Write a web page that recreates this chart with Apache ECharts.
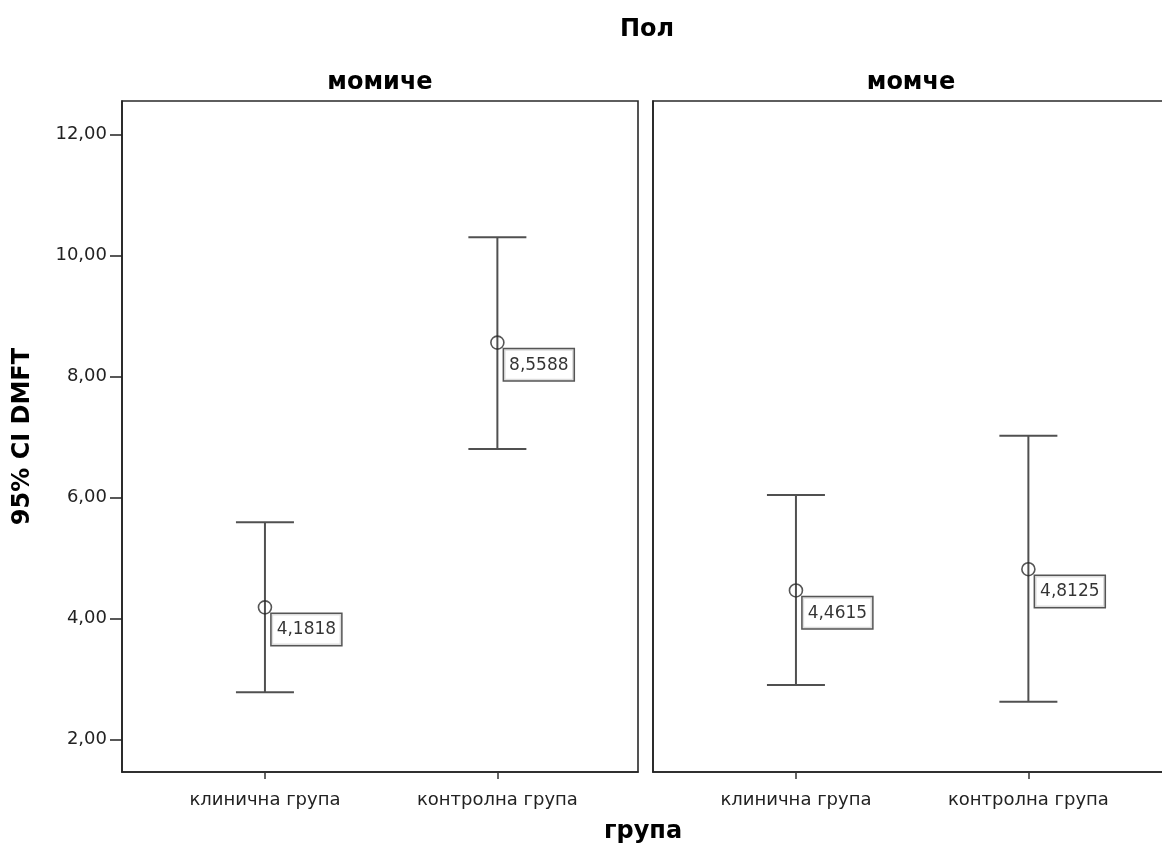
<!DOCTYPE html>
<html>
<head>
<meta charset="utf-8">
<script src="https://cdn.jsdelivr.net/npm/echarts@6/dist/echarts.min.js"></script>
<style>
html,body{margin:0;padding:0;background:#fff;}
#chart{width:1162px;height:854px;}
</style>
</head>
<body>
<div id="chart"></div>
<script>
// ---- data ----
var mainTitle = 'Пол';
var panels = ['момиче', 'момче'];
var categories = ['клинична група', 'контролна група'];
var yTitle = '95% CI DMFT';
var xTitle = 'група';
var yTicks = [2, 4, 6, 8, 10, 12];
// per panel: means, lower CI, upper CI (in category order)
var meansGirl = [4.1818, 8.5588];
var lowGirl = [2.78, 6.80];
var highGirl = [5.59, 10.30];
var meansBoy = [4.4615, 4.8125];
var lowBoy = [2.90, 2.62];
var highBoy = [6.04, 7.02];

var FONT = '"DejaVu Sans", Verdana, sans-serif';
var chart = echarts.init(document.getElementById('chart'));

function fmt(v, d) { return v.toFixed(d).replace('.', ','); }

var gridTop = 101, gridH = 671, gridW = 516;
var grids = [
  {left: 122, top: gridTop, width: gridW, height: gridH, show: true, borderColor: '#2a2a2a', borderWidth: 1.6, backgroundColor: 'transparent', containLabel: false, outerBoundsMode: 'none'},
  {left: 653, top: gridTop, width: gridW, height: gridH, show: true, borderColor: '#2a2a2a', borderWidth: 1.6, backgroundColor: 'transparent', containLabel: false, outerBoundsMode: 'none'}
];

function xAxis(i) {
  return {
    type: 'value', gridIndex: i, min: -0.615, max: 1.605,
    splitLine: {show: false},
    axisLine: {show: true, onZero: false, lineStyle: {color: '#222', width: 1.6}},
    axisTick: {show: true, customValues: [0, 1], length: 7, inside: false, lineStyle: {color: '#333', width: 1.5}},
    axisLabel: {show: true, customValues: [0, 1], margin: 19, color: '#222', fontSize: 18, fontFamily: FONT,
      formatter: function (v) { return categories[Math.round(v)]; }}
  };
}
function yAxis(i) {
  var ax = {
    type: 'value', gridIndex: i, min: 1.46, max: 12.553,
    splitLine: {show: false},
    axisLine: {show: true, onZero: false, lineStyle: {color: '#222', width: 1.6}},
    axisTick: {show: i === 0, customValues: yTicks, length: 12, lineStyle: {color: '#222', width: 1.5}},
    axisLabel: {show: i === 0, customValues: yTicks, margin: 15, color: '#222', fontSize: 18, fontFamily: FONT,
      formatter: function (v) { return fmt(v, 2); }}
  };
  if (i === 0) {
    ax.name = yTitle;
    ax.nameLocation = 'middle';
    ax.nameRotate = 90;
    ax.nameGap = 87;
    ax.nameTextStyle = {fontSize: 24, fontWeight: 'bold', color: '#000', fontFamily: FONT};
  }
  return ax;
}

function errData(low, high) {
  return low.map(function (l, k) { return [k, l, high[k]]; });
}
function meanData(m) {
  return m.map(function (v, k) { return [k, v]; });
}

function errSeries(i, low, high) {
  return {
    type: 'custom', xAxisIndex: i, yAxisIndex: i,
    data: errData(low, high),
    renderItem: function (params, api) {
      var x = api.value(0);
      var pLo = api.coord([x, api.value(1)]);
      var pHi = api.coord([x, api.value(2)]);
      var hw = 29;
      var st = {stroke: '#505050', lineWidth: 2};
      return {
        type: 'group',
        children: [
          {type: 'line', shape: {x1: pLo[0], y1: pLo[1], x2: pHi[0], y2: pHi[1]}, style: st},
          {type: 'line', shape: {x1: pLo[0] - hw, y1: pLo[1], x2: pLo[0] + hw, y2: pLo[1]}, style: st},
          {type: 'line', shape: {x1: pHi[0] - hw, y1: pHi[1], x2: pHi[0] + hw, y2: pHi[1]}, style: st}
        ]
      };
    },
    z: 2
  };
}
function meanSeries(i, m) {
  return {
    type: 'scatter', xAxisIndex: i, yAxisIndex: i,
    data: meanData(m),
    symbol: 'circle', symbolSize: 13,
    itemStyle: {color: 'rgba(0,0,0,0)', borderColor: '#2a2a2a', borderWidth: 1.6},
    label: {
      show: true, position: [14, 14],
      formatter: function (p) { return fmt(p.value[1], 4); },
      color: '#000', fontSize: 17, fontFamily: FONT,
      backgroundColor: '#fff', borderColor: '#2a2a2a', borderWidth: 1.5,
      padding: [6, 5, 5, 5], lineHeight: 20
    },
    emphasis: {disabled: true},
    z: 3
  };
}

var titleFont = 'bold 24px ' + FONT;
var option = {
  backgroundColor: '#fff',
  animation: false,
  grid: grids,
  xAxis: [xAxis(0), xAxis(1)],
  yAxis: [yAxis(0), yAxis(1)],
  series: [
    errSeries(0, lowGirl, highGirl),
    meanSeries(0, meansGirl),
    errSeries(1, lowBoy, highBoy),
    meanSeries(1, meansBoy)
  ],
  graphic: [
    {type: 'text', x: 647, y: 30, style: {text: mainTitle, align: 'center', verticalAlign: 'middle', font: titleFont, fill: '#000'}},
    {type: 'text', x: 380, y: 83, style: {text: panels[0], align: 'center', verticalAlign: 'middle', font: titleFont, fill: '#000'}},
    {type: 'text', x: 911, y: 83, style: {text: panels[1], align: 'center', verticalAlign: 'middle', font: titleFont, fill: '#000'}},
    {type: 'text', x: 643, y: 832, style: {text: xTitle, align: 'center', verticalAlign: 'middle', font: titleFont, fill: '#000'}}
  ]
};
chart.setOption(option);
</script>
</body>
</html>
